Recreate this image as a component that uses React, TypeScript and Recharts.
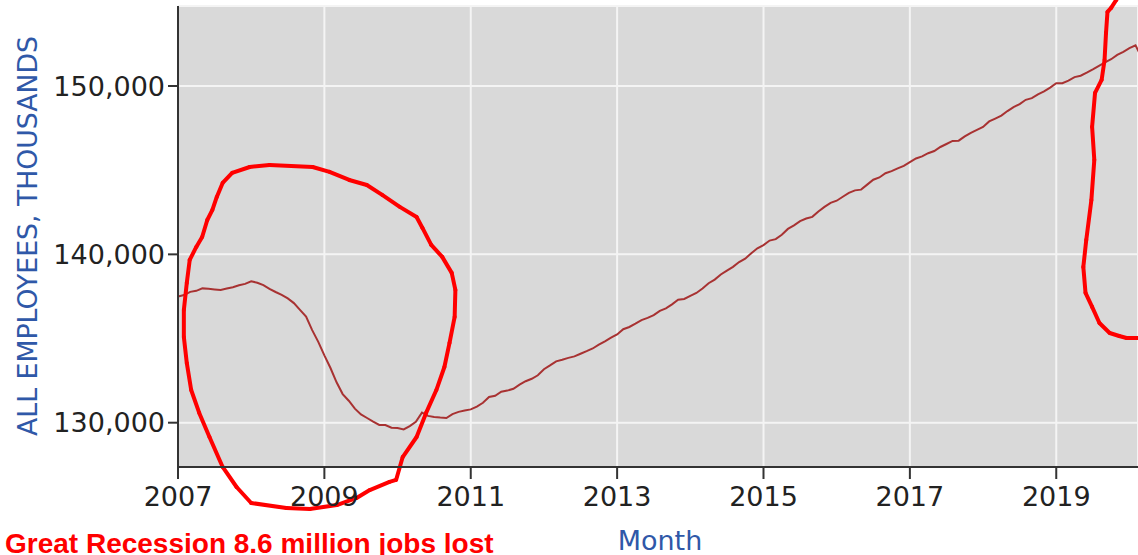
import React from 'react';
import { LineChart, Line, XAxis, YAxis, CartesianGrid, ReferenceLine, Customized } from 'recharts';

// ---- data (thousands of employees, monthly, seasonally adjusted) ----
const years = [2007, 2008, 2009, 2010, 2011, 2012, 2013, 2014, 2015, 2016, 2017, 2018, 2019, 2020];
const emp2007 = [137497, 137582, 137771, 137832, 137979, 137954, 137918, 137885, 137969, 138051, 138166, 138247];
const emp2008 = [138403, 138316, 138171, 137950, 137764, 137597, 137383, 137105, 136700, 136300, 135500, 134800];
const emp2009 = [134000, 133250, 132400, 131700, 131304, 130836, 130493, 130279, 130066, 129868, 129863, 129700];
const emp2010 = [129680, 129600, 129800, 130056, 130600, 130405, 130344, 130303, 130280, 130512, 130644, 130728];
const emp2011 = [130790, 130958, 131183, 131529, 131602, 131837, 131907, 132014, 132260, 132462, 132608, 132815];
const emp2012 = [133175, 133401, 133644, 133740, 133850, 133938, 134098, 134248, 134409, 134634, 134837, 135051];
const emp2013 = [135241, 135552, 135687, 135879, 136097, 136224, 136388, 136644, 136793, 137030, 137304, 137349];
const emp2014 = [137536, 137704, 137976, 138286, 138499, 138805, 139037, 139255, 139541, 139741, 140072, 140358];
const emp2015 = [140548, 140820, 140906, 141168, 141512, 141718, 141972, 142129, 142229, 142550, 142822, 143061];
const emp2016 = [143187, 143424, 143649, 143802, 143845, 144142, 144433, 144568, 144817, 144942, 145106, 145261];
const emp2017 = [145477, 145696, 145821, 146008, 146140, 146379, 146556, 146739, 146753, 147010, 147222, 147393];
const emp2018 = [147569, 147899, 148069, 148244, 148514, 148749, 148922, 149182, 149278, 149509, 149681, 149902];
const emp2019 = [150171, 150172, 150319, 150529, 150614, 150796, 150990, 151197, 151405, 151590, 151851, 152035];
const emp2020 = [152249, 152420, 151700];
const employmentByYear = [emp2007, emp2008, emp2009, emp2010, emp2011, emp2012, emp2013, emp2014, emp2015, emp2016, emp2017, emp2018, emp2019, emp2020];

const xTicks = [2007, 2009, 2011, 2013, 2015, 2017, 2019];
const yTicks = [130000, 140000, 150000];
const xDomain = [2007, 2020.117];
const yDomain = [127368, 154754];

// hand-drawn annotation loops, in data units [year, thousands]
const recessionLoop = [
  [2008.25, 145310], [2008.84, 145190], [2009.07, 144900], [2009.34, 144420], [2009.58, 144120],
  [2009.79, 143530], [2010.03, 142820], [2010.26, 142220], [2010.34, 141570], [2010.46, 140560],
  [2010.61, 139850], [2010.74, 138900], [2010.79, 137890], [2010.78, 136280], [2010.71, 134740],
  [2010.64, 133310], [2010.53, 131940], [2010.39, 130580], [2010.26, 129150], [2010.07, 127960],
  [2009.98, 126600], [2009.89, 126480], [2009.62, 126000], [2009.44, 125530], [2009.17, 125110],
  [2008.80, 124870], [2008.48, 124930], [2008.00, 125230], [2007.80, 126180], [2007.61, 127370],
  [2007.43, 129150], [2007.29, 130580], [2007.18, 131940], [2007.12, 133550], [2007.08, 135090],
  [2007.08, 136700], [2007.12, 138300], [2007.16, 139670], [2007.25, 140440], [2007.33, 141030],
  [2007.40, 142040], [2007.47, 142640], [2007.53, 143410], [2007.61, 144240], [2007.74, 144840],
  [2007.98, 145190], [2008.25, 145310],
];
const covidLoop = [
  [2019.86, 155470], [2019.82, 155120], [2019.75, 154640], [2019.70, 154400], [2019.68, 153160],
  [2019.66, 151550], [2019.62, 150360], [2019.53, 149590], [2019.49, 147570], [2019.52, 145610],
  [2019.48, 143230], [2019.41, 140860], [2019.37, 139250], [2019.40, 137710], [2019.49, 136880],
  [2019.59, 135920], [2019.73, 135330], [2019.86, 135150], [2019.96, 135030], [2020.20, 135030],
];

const tableData = employmentByYear.flatMap((vals, yi) =>
  vals.map((v, m) => ({ t: years[yi] + m / 12, v }))
);

const tickFont = { fill: '#222', fontSize: 27, fontFamily: 'DejaVu Sans' };
const axisStroke = { stroke: '#333', strokeWidth: 2 };

const Texts = () => (
  <g>
    <text
      transform="translate(36.5,236) rotate(-90)"
      textAnchor="middle"
      fill="#2f58a8"
      fontSize={26.7}
      fontFamily="DejaVu Sans"
    >
      ALL EMPLOYEES, THOUSANDS
    </text>
    <text x={660} y={550} textAnchor="middle" fill="#2f58a8" fontSize={27} fontFamily="DejaVu Sans">
      Month
    </text>
    <text x={5} y={553} fill="#ff0000" fontSize={28} fontWeight="bold" fontFamily="Liberation Sans, Arial">
      Great Recession 8.6 million jobs lost
    </text>
  </g>
);

const loopSegments = (pts: number[][], key: string) =>
  pts.slice(0, -1).map((p, i) => (
    <ReferenceLine
      key={`${key}-${i}`}
      segment={[{ x: p[0], y: p[1] }, { x: pts[i + 1][0], y: pts[i + 1][1] }]}
      ifOverflow="visible"
      stroke="#ff0000"
      strokeWidth={4}
      strokeLinecap="round"
    />
  ));

export default function App() {
  return (
    <div style={{ position: 'absolute', left: 0, top: 0, width: 1138, height: 555, background: '#fff' }}>
      <LineChart width={1138} height={555} data={tableData} margin={{ top: 6, right: 0, bottom: 0, left: 0 }}>
        <CartesianGrid fill="#d9d9d9" fillOpacity={1} stroke="#f4f4f4" strokeWidth={2} />
        <XAxis
          dataKey="t"
          type="number"
          domain={xDomain}
          ticks={xTicks}
          allowDataOverflow
          height={88}
          tickSize={12}
          tickMargin={8}
          axisLine={axisStroke}
          tickLine={axisStroke}
          tick={tickFont}
          interval={0}
        />
        <XAxis
          xAxisId="top"
          orientation="top"
          type="number"
          dataKey="t"
          domain={xDomain}
          allowDataOverflow
          height={0}
          tick={false}
          tickLine={false}
          axisLine={{ stroke: '#444', strokeWidth: 2 }}
        />
        <YAxis
          type="number"
          domain={yDomain}
          ticks={yTicks}
          allowDataOverflow
          width={178}
          tickSize={10}
          tickMargin={3}
          axisLine={axisStroke}
          tickLine={axisStroke}
          tick={tickFont}
          interval={0}
          tickFormatter={(v: number) => v.toLocaleString('en-US')}
        />
        <Line
          dataKey="v"
          type="linear"
          stroke="#a83232"
          strokeWidth={2}
          dot={false}
          isAnimationActive={false}
        />
        {loopSegments(recessionLoop, 'rec')}
        {loopSegments(covidLoop, 'cov')}
        <Customized component={Texts} />
      </LineChart>
    </div>
  );
}
